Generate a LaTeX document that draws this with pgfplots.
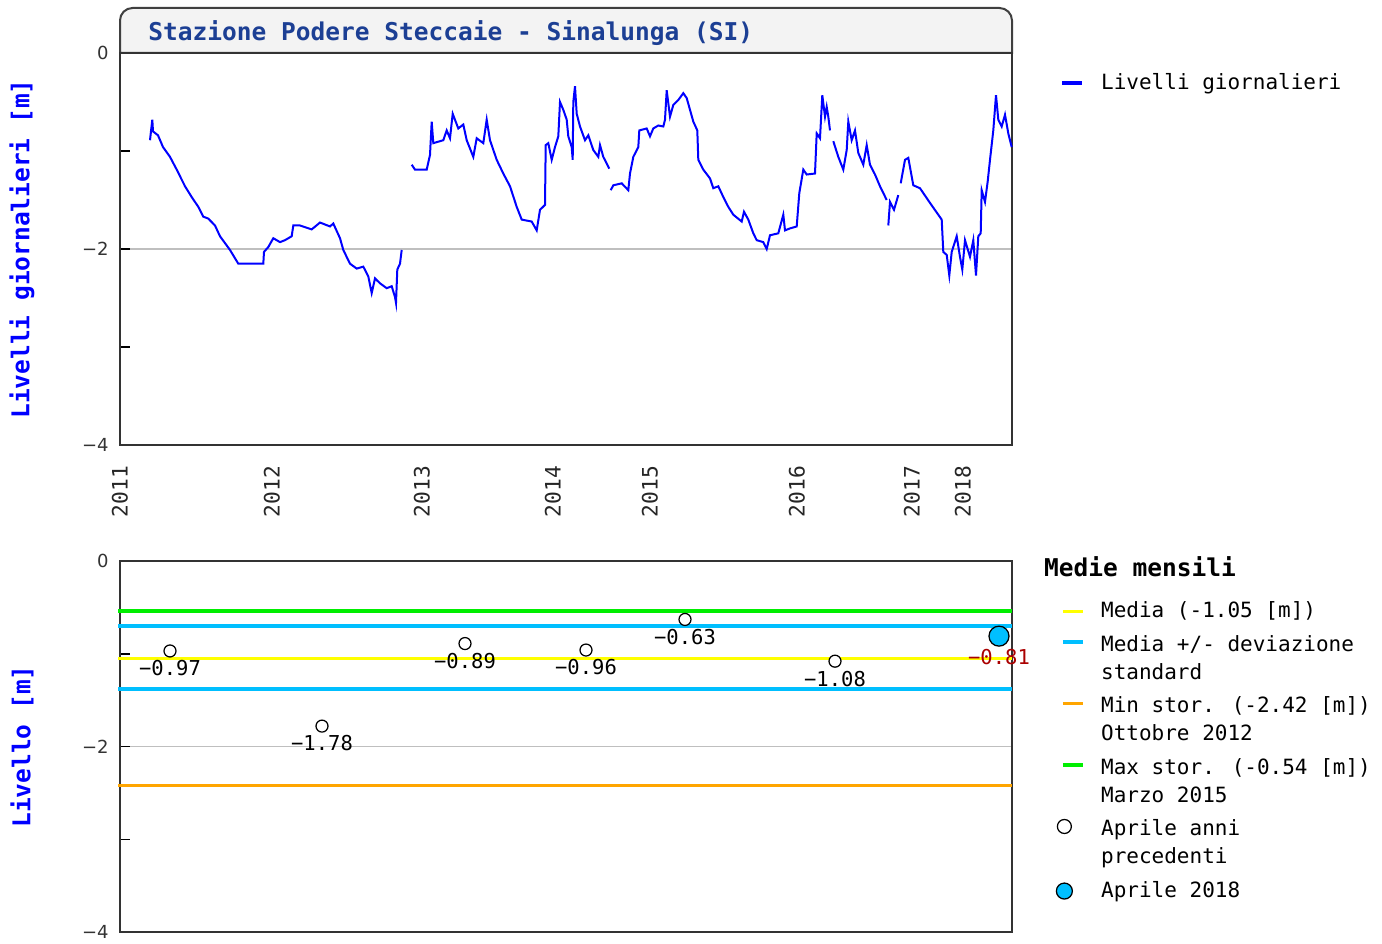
\documentclass[border=0pt]{standalone}
\usepackage{pgfplots}
\pgfplotsset{compat=1.18}
\usepackage{fontspec}
\setmainfont{DejaVu Sans Mono}
\newfontfamily\ticksf{DejaVu Sans}
\definecolor{serieblue}{HTML}{0000FF}
\definecolor{titleblue}{HTML}{1C3F94}
\definecolor{myyellow}{HTML}{FFFF00}
\definecolor{mycyan}{HTML}{00BFFF}
\definecolor{myorange}{HTML}{FFA500}
\definecolor{mygreen}{HTML}{00EE00}
\definecolor{labred}{HTML}{AA0000}
\definecolor{boxfill}{HTML}{F3F3F3}

\pgfplotstableread{
x y
150 -0.89
152.3 -0.68
153 -0.80
158 -0.84
163 -0.96
170 -1.06
176.7 -1.19
185 -1.36
191.7 -1.47
198.3 -1.57
203.3 -1.67
208.3 -1.69
215 -1.76
220 -1.87
230 -2.01
238.3 -2.15
256.7 -2.15
263.3 -2.15
264 -2.03
268.3 -1.98
273.3 -1.89
280 -1.93
285 -1.91
291.7 -1.87
293.3 -1.76
300 -1.76
311.7 -1.80
320 -1.73
330 -1.77
333.3 -1.74
340 -1.89
343.3 -2.01
350 -2.15
356.7 -2.20
363.3 -2.18
368.3 -2.28
371.7 -2.45
375 -2.30
380 -2.35
386.7 -2.40
391.7 -2.38
395 -2.49
396 -2.55
397.3 -2.21
400 -2.15
401.7 -2.01
402 nan
411.7 -1.14
415 -1.19
426.7 -1.19
430 -1.04
431.7 -0.70
433.3 -0.92
443.3 -0.89
446.7 -0.79
450 -0.87
452.7 -0.62
458.3 -0.77
463.3 -0.73
466.7 -0.89
473.3 -1.06
476.7 -0.87
483.3 -0.92
486.7 -0.68
490 -0.89
496.7 -1.09
503.3 -1.23
510 -1.36
516.7 -1.57
521.7 -1.70
531.7 -1.72
536.7 -1.81
540 -1.60
545 -1.55
545.7 -0.94
548.3 -0.92
551.7 -1.09
555 -0.96
558.3 -0.85
560 -0.50
563.3 -0.58
566.7 -0.68
568.3 -0.85
571.7 -0.96
572.7 -1.09
573.3 -0.50
575 -0.34
576.7 -0.62
580 -0.75
585 -0.89
588.3 -0.84
593.3 -0.99
598.3 -1.06
600 -0.94
603.3 -1.06
609.3 -1.18
610 nan
610.7 -1.40
613.3 -1.35
621.7 -1.33
628.3 -1.40
630 -1.23
633.3 -1.06
638.3 -0.96
639.3 -0.79
646.7 -0.77
650 -0.85
653.3 -0.77
658.3 -0.74
663.3 -0.75
665 -0.68
666.7 -0.38
670 -0.65
673.3 -0.53
678.3 -0.48
683.3 -0.41
686.7 -0.46
690 -0.58
693.3 -0.70
697.3 -0.79
698.3 -1.09
703.3 -1.19
710 -1.28
713.3 -1.38
718.3 -1.36
723.3 -1.47
728.3 -1.57
733.3 -1.65
741.7 -1.72
744 -1.62
748.3 -1.70
753.3 -1.84
756.7 -1.91
763.3 -1.93
766.7 -2.00
770 -1.86
778.3 -1.84
783.3 -1.65
785 -1.81
790 -1.79
796.7 -1.77
799.3 -1.43
803.3 -1.19
806.7 -1.24
815 -1.23
816.7 -0.82
820 -0.87
822.3 -0.43
825 -0.65
826.7 -0.55
828.3 -0.65
830 -0.79
831 nan
833.3 -0.90
838.3 -1.06
843.3 -1.19
846.7 -0.99
848.3 -0.70
851.7 -0.89
855 -0.79
858.3 -1.02
863.3 -1.14
866.7 -0.94
870 -1.14
875 -1.24
880 -1.36
886.7 -1.50
887.5 nan
888.3 -1.76
890 -1.52
894 -1.60
898.3 -1.45
899.5 nan
900.7 -1.33
905 -1.09
908.3 -1.07
913.3 -1.35
920 -1.38
930 -1.53
941.7 -1.70
943.3 -2.03
946.7 -2.06
949.3 -2.27
951.7 -2.03
956.7 -1.87
960 -2.08
962.3 -2.21
965 -1.91
970 -2.08
973.3 -1.91
976 -2.27
978.3 -1.87
980.7 -1.84
981.7 -1.40
985 -1.52
987.7 -1.31
990 -1.09
993.3 -0.79
996 -0.43
998.3 -0.68
1001.7 -0.75
1005 -0.63
1008.3 -0.82
1011.7 -0.96
}\dailytable

\pgfplotsset{
  panel/.style={
    scale only axis,
    width=356.8pt,
    xmin=120, xmax=1012,
    ymin=-4, ymax=0,
    axis line style={draw=black!80, line width=0.8pt},
    ytick={0,-2,-4},
    yticklabels={0,{−2},{−4}},
    minor ytick={-1,-3},
    ytick pos=left,
    tick align=inside,
    major tick length=4pt,
    minor tick length=4pt,
    tick style={black, line width=0.6pt},
    ymajorgrids,
    grid style={black!25, line width=0.6pt},
    yticklabel style={font=\ticksf\fontsize{7.2}{8}\selectfont, black!80, xshift=-1pt},
    every axis y label/.style={at={(axis description cs:-0.1099,0.5)}, rotate=90, anchor=center, font=\bfseries\fontsize{9.8}{11}\selectfont, color=serieblue},
    clip=false,
  },
}

\begin{document}
\begin{tikzpicture}
\useasboundingbox (0,0) rectangle (552.8pt,377.2pt);

% title box
\filldraw[fill=boxfill, draw=black!75, line width=0.8pt] (48pt,356pt) [rounded corners=5pt] -- (48pt,374pt) -- (404.8pt,374pt) [sharp corners] -- (404.8pt,356pt) -- cycle;
\node[anchor=west, text=titleblue, font=\bfseries\fontsize{9.8}{11}\selectfont] at (55.8pt,364pt) {Stazione Podere Steccaie - Sinalunga (SI)};

\begin{axis}[panel,
  at={(48pt,199.2pt)}, anchor=south west,
  height=156.8pt,
  xtick={120,272,422,553,650,797,912,963},
  xticklabels={2011,2012,2013,2014,2015,2016,2017,2018},
  xtick style={draw=none},
  xticklabel style={rotate=90, anchor=east, font=\fontsize{8.5}{10}\selectfont, black!85, xshift=-4.8pt},
  ylabel={Livelli giornalieri [m]},
  legend style={at={(axis description cs:1.054,0.923)}, anchor=west, draw=none, fill=none, font=\fontsize{8.4}{11}\selectfont, inner sep=0pt, column sep=4.8pt},
  legend cell align=left,
]
\addplot[serieblue, line width=0.8pt, unbounded coords=jump,
  legend image code/.code={\draw[serieblue, line width=1.4pt] (0pt,0pt) -- (8pt,0pt);}]
  table[x=x, y=y] {\dailytable};
\addlegendentry{Livelli giornalieri}
\end{axis}

\begin{axis}[panel,
  at={(48pt,4.4pt)}, anchor=south west,
  height=148.4pt,
  xtick=\empty,
  ylabel={Livello [m]},
  legend style={at={(axis description cs:1.0485,0.905)}, anchor=north west, draw=none, fill=none, font=\fontsize{8.4}{11.2}\selectfont, align=left, inner sep=0pt, row sep=1.5pt, column sep=4.6pt},
  legend cell align=left,
]
\addplot[myyellow, line width=1.3pt,
  legend image code/.code={\draw[myyellow, line width=1.4pt] (0pt,0pt) -- (8pt,0pt);}]
  coordinates {(118,-1.05) (1012,-1.05)};
\addlegendentry{Media (-1.05 [m])}
\addplot[mycyan, line width=1.3pt,
  legend image code/.code={\draw[mycyan, line width=1.4pt] (0pt,6.8pt) -- (8pt,6.8pt);}]
  coordinates {(118,-0.70) (1012,-0.70)};
\addlegendentry{Media +/- deviazione\\standard}
\addplot[mycyan, line width=1.3pt, forget plot]
  coordinates {(118,-1.38) (1012,-1.38)};
\addplot[myorange, line width=1.3pt,
  legend image code/.code={\draw[myorange, line width=1.4pt] (0pt,6.8pt) -- (8pt,6.8pt);}]
  coordinates {(118,-2.42) (1012,-2.42)};
\addlegendentry{Min stor. (-2.42 [m])\\Ottobre 2012}
\addplot[mygreen, line width=1.3pt,
  legend image code/.code={\draw[mygreen, line width=1.4pt] (0pt,6.8pt) -- (8pt,6.8pt);}]
  coordinates {(118,-0.54) (1012,-0.54)};
\addlegendentry{Max stor. (-0.54 [m])\\Marzo 2015}
\addplot[only marks, mark=*, mark size=2.4pt, mark options={fill=white, draw=black, line width=0.5pt},
  point meta=explicit symbolic,
  nodes near coords={\pgfplotspointmeta},
  every node near coord/.style={anchor=north, font=\fontsize{8.2}{9}\selectfont, black, inner sep=0pt, yshift=-3.6pt},
  legend image code/.code={\draw[black, fill=white, line width=0.5pt] (0.6pt,6.8pt) circle (2.8pt);}]
  coordinates {(170,-0.97) [−0.97] (322,-1.78) [−1.78] (465,-0.89) [−0.89] (586,-0.96) [−0.96] (685,-0.63) [−0.63] (835,-1.08) [−1.08]};
\addlegendentry{Aprile anni\\precedenti}
\addplot[only marks, mark=*, mark size=4pt, mark options={fill=mycyan, draw=black, line width=0.5pt},
  point meta=explicit symbolic,
  nodes near coords={\pgfplotspointmeta},
  every node near coord/.style={anchor=north, font=\fontsize{8.2}{9}\selectfont, text=labred, inner sep=0pt, yshift=-5pt},
  legend image code/.code={\draw[black, fill=mycyan, line width=0.5pt] (0.6pt,0pt) circle (3.2pt);}]
  coordinates {(999,-0.81) [−0.81]};
\addlegendentry{Aprile 2018}
\node[anchor=west, font=\bfseries\fontsize{9.8}{11}\selectfont] at (axis description cs:1.026,0.984) {Medie mensili};
\end{axis}
\end{tikzpicture}
\end{document}
